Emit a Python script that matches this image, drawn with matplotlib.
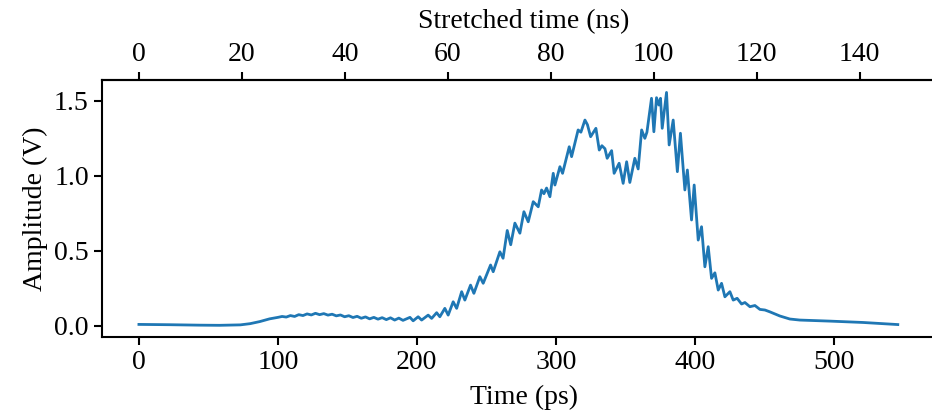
import numpy as np
import matplotlib
matplotlib.use("Agg")
import matplotlib.pyplot as plt

plt.rcParams['font.family'] = ['Liberation Serif', 'DejaVu Serif']
plt.rcParams['font.size'] = 20

# time (ps) and amplitude (V)
time_ps = [0, 22, 44, 58, 73, 80, 87, 94, 100, 103, 106, 109, 112, 115, 118,
           121, 124, 127, 130, 133, 136, 139, 142, 145, 148, 151, 154, 157,
           160, 163, 166, 169, 172, 175, 178, 181, 184, 187, 190,
           195.0, 197.3, 200.9, 203.4, 208.1, 210.6, 214.2, 216.5, 220.1,
           222.5, 226.1, 228.6, 232.2, 234.5, 238.6, 241.0, 245.3, 247.7,
           253.0, 254.9, 259.7, 262.0, 265.0, 267.5, 270.5, 274.1, 277.0,
           280.1, 283.7, 287.3, 289.7, 291.4, 293.3, 295.7, 298.1, 299.3,
           302.9, 304.8, 309.6, 311.3, 316.0, 318.0, 320.9, 322.7, 325.0,
           328.8, 331.2, 333.1, 335.3, 336.9, 340.1, 341.9, 345.5, 348.4,
           350.9, 353.2, 356.8, 359.2, 361.7, 364.0, 365.5, 368.8, 370.5,
           372.4, 374.1, 375.3, 376.5, 379.6, 381.5, 384.4, 387.4, 389.6,
           392.8, 394.6, 397.6, 399.5, 402.4, 404.8, 407.2, 409.6, 412.0,
           414.4, 416.8, 419.2, 421.6, 425.2, 427.6, 430.4, 433.6, 436.0,
           439.6, 443.2, 446.8, 450.4, 453.9, 461.2, 468.3, 475.5, 497.1,
           520.9, 546.0]
amp_v = [0.009, 0.007, 0.004, 0.003, 0.006, 0.014, 0.028, 0.046, 0.056,
         0.062, 0.058, 0.068, 0.062, 0.074, 0.068, 0.079, 0.072, 0.083,
         0.074, 0.081, 0.071, 0.077, 0.066, 0.072, 0.060, 0.067, 0.055,
         0.063, 0.050, 0.059, 0.046, 0.056, 0.044, 0.054, 0.041, 0.053,
         0.038, 0.051, 0.036,
         0.056, 0.033, 0.060, 0.038, 0.071, 0.049, 0.087, 0.060, 0.116,
         0.071, 0.160, 0.116, 0.227, 0.171, 0.271, 0.216, 0.327, 0.283,
         0.405, 0.360, 0.493, 0.450, 0.635, 0.540, 0.684, 0.617, 0.760,
         0.693, 0.827, 0.793, 0.905, 0.880, 0.918, 0.860, 1.016, 0.938,
         1.060, 1.016, 1.193, 1.127, 1.305, 1.290, 1.371, 1.340, 1.260,
         1.316, 1.171, 1.200, 1.180, 1.116, 1.167, 1.016, 1.083, 0.949,
         1.093, 0.955, 1.116, 1.045, 1.305, 1.249, 1.290, 1.516, 1.293,
         1.520, 1.471, 1.516, 1.316, 1.555, 1.205, 1.371, 1.027, 1.283,
         0.905, 1.038, 0.705, 0.938, 0.571, 0.660, 0.393, 0.527, 0.316,
         0.353, 0.238, 0.283, 0.193, 0.227, 0.171, 0.183, 0.145, 0.155,
         0.127, 0.135, 0.109, 0.105, 0.093, 0.065, 0.045, 0.038, 0.031,
         0.022, 0.008]

stretch = 0.27  # ns of stretched time per ps

fig = plt.figure(figsize=(9.32, 4.17), dpi=100)
# axes runs past the right edge (the original is cropped there)
ax = fig.add_axes([0.1094, 0.1918, 0.9046, 0.6164])
ax.plot(time_ps, amp_v, color='#1f77b4', lw=2)
ax.set_xlim(-26.6, 580)
ax.set_ylim(-0.075, 1.638)
ax.set_xlabel('Time (ps)', labelpad=7)
ax.set_ylabel('Amplitude (V)')
ax.set_xticks([0, 100, 200, 300, 400, 500])
ax.set_yticks([0.0, 0.5, 1.0, 1.5])

sec = ax.secondary_xaxis('top', functions=(lambda x: x * stretch, lambda x: x / stretch))
sec.set_xlabel('Stretched time (ns)', labelpad=10)
sec.set_xticks([0, 20, 40, 60, 80, 100, 120, 140])

for a in (ax, sec):
    a.tick_params(width=1.5, length=6)
for s in ax.spines.values():
    s.set_linewidth(1.5)
sec.spines['top'].set_linewidth(1.5)

fig.savefig('out.png', dpi=100)
